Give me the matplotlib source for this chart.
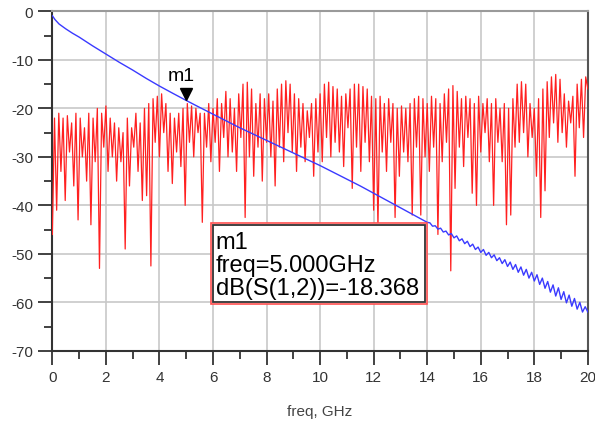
import numpy as np
import matplotlib.pyplot as plt
from matplotlib.patches import Rectangle
from matplotlib.transforms import ScaledTranslation

plt.rcParams['font.family'] = ['Liberation Sans', 'DejaVu Sans']
plt.rcParams['axes.unicode_minus'] = False

# dB(S(1,1)), sweep 0..20 GHz with 0.08 GHz step
s11_db = [
    -46, -22, -41, -21, -33, -22, -39, -21.5, -29, -23,
    -36, -21, -43, -22, -30, -24, -35, -21, -44, -22,
    -31, -20, -53, -21, -28, -19.5, -33, -22, -30, -23,
    -35, -24, -31, -25, -49, -22, -36, -24, -28, -21,
    -33, -23, -39, -20, -38, -19, -52.5, -18, -27, -17.5,
    -30, -17, -25, -19, -33, -21, -35.5, -22, -29, -21,
    -32, -20, -40, -19, -27, -19.5, -30, -20, -25, -21,
    -43.5, -21, -28, -19, -31, -20, -27, -18, -33, -19,
    -26, -16.5, -30, -18, -29, -20, -33, -17, -26, -15,
    -42.5, -14.6, -30, -16, -34, -19, -28, -17, -35, -18,
    -27, -17, -30, -18.5, -36, -16, -28, -15, -31, -14.3,
    -25, -15, -29, -17, -33, -18, -28, -19, -31, -20.5,
    -26, -19, -34, -18, -29, -17, -31, -15, -26, -14.6,
    -30, -15.5, -27, -16, -29, -17.5, -32, -17, -24, -16,
    -36.5, -15, -28, -15, -33, -15.5, -27, -16, -31, -17.5,
    -41, -18, -44.5, -17.5, -29, -19, -33, -18, -27, -19,
    -42.5, -20, -34, -19.5, -29, -20, -31, -19, -42, -18,
    -28, -17.5, -42, -18, -30, -19, -33, -17.5, -28, -18,
    -46, -19, -31, -17, -27, -16, -53.5, -15.3, -36.5, -16.5,
    -28, -18, -32, -17.5, -26, -18, -37.5, -19, -40, -17.5,
    -29, -19, -25, -18, -31, -19, -40, -18, -27, -20,
    -31, -19, -44, -20, -42, -18, -28, -15, -27, -14.5,
    -25, -15, -30, -19, -26, -20, -34, -18, -42.5, -16,
    -37, -14.5, -26, -13.5, -23, -13, -27, -14, -25, -17,
    -28, -18.5, -23, -17.5, -34, -15, -24, -14, -26, -13.5,
    -16,
]
s11_freq = np.linspace(0, 20, len(s11_db))

# dB(S(1,2)): smooth part 0..14 GHz, rippled part 14.1..20 GHz
s21_freq_low = [0, 0.1, 0.25, 0.5, 0.75, 1.0, 1.5, 2.0, 2.5, 3.0, 3.5, 4.0, 4.5,
                5.0, 5.5, 6.0, 6.5, 7.0, 7.5, 8.0, 8.5, 9.0, 9.5, 10.0, 10.5,
                11.0, 11.5, 12.0, 12.5, 13.0, 13.5, 14.0]
s21_db_low = [
    -0.9, -1.7, -2.6, -3.6, -4.5, -5.3, -7.1, -8.8, -10.5, -12.1, -13.8, -15.4, -16.9,
    -18.37, -19.8, -21.2, -22.6, -24.0, -25.3, -26.6, -27.9, -29.2, -30.5,
    -31.8, -33.2, -34.6, -36.0, -37.5, -39.0, -40.5, -42.0, -43.5,
]
s21_db_high = [
    -43.6, -44.3, -44.2, -44.9, -44.7, -45.5, -45.3, -46.1, -45.8, -46.7,
    -46.3, -47.3, -46.9, -47.9, -47.4, -48.5, -48.0, -49.1, -48.6, -49.7,
    -49.1, -50.3, -49.7, -50.8, -50.2, -51.4, -50.8, -52.0, -51.2, -52.6,
    -51.7, -53.2, -52.2, -53.8, -52.7, -54.4, -53.2, -55.0, -53.8, -55.6,
    -54.3, -56.3, -55.0, -57.1, -55.7, -57.9, -56.4, -58.7, -57.0, -59.4,
    -57.8, -60.1, -58.5, -60.8, -59.2, -61.4, -60.0, -62.0, -60.9, -62.0,
]
s21_freq = np.concatenate([s21_freq_low, np.linspace(14.1, 20, len(s21_db_high))])
s21_db = s21_db_low + s21_db_high

m1_freq = 5.0
m1_val = -18.368
readout = ["m1", "freq=5.000GHz", "dB(S(1,2))=-18.368"]

fig = plt.figure(figsize=(5.95, 4.27), dpi=100)
ax = fig.add_axes([0.088, 0.176, 0.9, 0.795])

ax.plot(s11_freq, s11_db, color='#ff2020', lw=0.9, zorder=3)
ax.plot(s21_freq, s21_db, color='#3a3aff', lw=1.0, zorder=4)

# marker m1
off = ScaledTranslation(0, 5 / 72, fig.dpi_scale_trans)
ax.plot([m1_freq], [m1_val], marker='v', ms=8, color='black',
        transform=ax.transData + off, zorder=6, clip_on=False)
ax.annotate("m1", (m1_freq, m1_val), xytext=(-13, 15), textcoords='offset points',
            fontsize=14, color='black', zorder=6)

# readout box
ax.add_patch(Rectangle((5.91, -60.3), 8.09, 16.7, facecolor='white',
                       edgecolor='#ff5050', lw=1.2, zorder=7))
ax.add_patch(Rectangle((5.99, -59.9), 7.93, 15.9, facecolor='none',
                       edgecolor='#333333', lw=1.3, zorder=8))
ax.text(6.1, -45.3, "\n".join(readout), fontsize=17, va='top', ha='left',
        linespacing=1.07, color='black', zorder=9)

ax.set_xlim(0, 20)
ax.set_ylim(-70, 0)
ax.set_xticks(np.arange(0, 21, 2))
ax.set_xticks(np.arange(1, 20, 2), minor=True)
ax.set_yticks(np.arange(-70, 1, 10))
ax.set_yticks(np.arange(-65, 0, 10), minor=True)
ax.grid(True, which='major', color='#c8c8c8', lw=1.2)
ax.set_axisbelow(True)
ax.tick_params(which='major', direction='out', length=10, width=1.3,
               color='#333333', labelsize=11, labelcolor='#333333', pad=4)
ax.tick_params(which='minor', direction='out', length=6, width=1.3, color='#333333')
for side in ['left', 'bottom']:
    ax.spines[side].set_color('#333333')
    ax.spines[side].set_linewidth(1.5)
ax.spines['top'].set_color('#9a9a9a')
ax.spines['top'].set_linewidth(1.5)
ax.spines['right'].set_color('#555555')
ax.spines['right'].set_linewidth(1.5)
ax.set_xlabel("freq, GHz", fontsize=11, color='#444444', labelpad=14)

fig.savefig("out.png", dpi=100)
